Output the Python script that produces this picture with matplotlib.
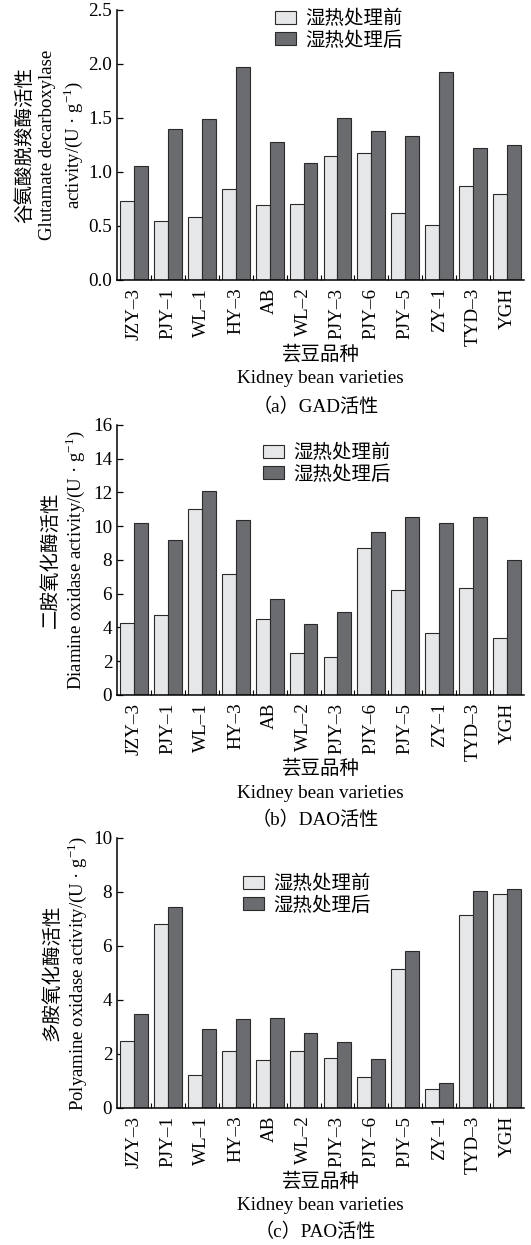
import numpy as np
import matplotlib
matplotlib.use("Agg")
import matplotlib.pyplot as plt
from matplotlib.ticker import MultipleLocator, FormatStrFormatter

plt.rcParams['font.family'] = ['Liberation Serif', 'Noto Sans CJK SC', 'DejaVu Sans']
plt.rcParams['mathtext.fontset'] = 'custom'
plt.rcParams['mathtext.rm'] = 'Liberation Serif'
plt.rcParams['axes.unicode_minus'] = False

# Kidney bean varieties
varieties = ["JZY–3", "PJY–1", "WL–1", "HY–3", "AB", "WL–2", "PJY–3",
             "PJY–6", "PJY–5", "ZY–1", "TYD–3", "YGH"]
series_names = ["湿热处理前", "湿热处理后"]

# Enzyme activity, U/g
gad_before = [0.73, 0.55, 0.58, 0.84, 0.69, 0.70, 1.15, 1.18, 0.62, 0.51, 0.87, 0.80]
gad_after = [1.06, 1.40, 1.49, 1.97, 1.28, 1.08, 1.50, 1.38, 1.33, 1.93, 1.22, 1.25]

dao_before = [4.29, 4.74, 11.02, 7.19, 4.48, 2.47, 2.23, 8.69, 6.22, 3.65, 6.36, 3.36]
dao_after = [10.19, 9.17, 12.07, 10.37, 5.69, 4.19, 4.92, 9.66, 10.55, 10.19, 10.57, 8.02]

pao_before = [2.49, 6.83, 1.22, 2.12, 1.79, 2.12, 1.86, 1.16, 5.16, 0.70, 7.16, 7.92]
pao_after = [3.50, 7.44, 2.94, 3.31, 3.35, 2.77, 2.46, 1.81, 5.83, 0.91, 8.02, 8.10]

W, H = 531, 1245
fig = plt.figure(figsize=(W / 100, H / 100), dpi=100)

LIGHT = "#e6e7e9"
DARK = "#6b6c70"
EDGE = "#2a2a2a"
FS = 13.8
YL_FS = 13.5
CJK_FS = 14

panels = [
    dict(top=10, before=gad_before, after=gad_after, ymax=2.5, step=0.5, fmt="%.1f",
         ylabels=[("谷氨酸脱羧酶活性", 25, CJK_FS),
                  ("Glutamate decarboxylase", 48, YL_FS),
                  ("activity/(U · g$^{-1}$)", 73, YL_FS)],
         legend=(275, 10), xl=(355, 379, 407), caption="（a）GAD活性"),
    dict(top=425, before=dao_before, after=dao_after, ymax=16, step=2, fmt="%d",
         ylabels=[("二胺氧化酶活性", 51, CJK_FS),
                  ("Diamine oxidase activity/(U · g$^{-1}$)", 75, YL_FS)],
         legend=(263, 444), xl=(769, 793, 820), caption="（b）DAO活性"),
    dict(top=838, before=pao_before, after=pao_after, ymax=10, step=2, fmt="%d",
         ylabels=[("多胺氧化酶活性", 52, CJK_FS),
                  ("Polyamine oxidase activity/(U · g$^{-1}$)", 77, YL_FS)],
         legend=(243, 875), xl=(1182, 1206, 1232), caption="（c）PAO活性"),
]

AX_LEFT, AX_RIGHT, AX_H = 117, 524, 270
x = np.arange(len(varieties))
bw = 0.41

for p in panels:
    top = p["top"]
    ax = fig.add_axes([AX_LEFT / W, 1 - (top + AX_H) / H,
                       (AX_RIGHT - AX_LEFT) / W, AX_H / H])
    ax.bar(x - bw / 2, p["before"], bw, color=LIGHT, edgecolor=EDGE,
           linewidth=0.8, label=series_names[0], zorder=2)
    ax.bar(x + bw / 2, p["after"], bw, color=DARK, edgecolor=EDGE,
           linewidth=0.8, label=series_names[1], zorder=2)
    ax.set_xlim(-0.5, len(varieties) - 0.5)
    ax.set_ylim(0, p["ymax"])
    ax.yaxis.set_major_locator(MultipleLocator(p["step"]))
    ax.yaxis.set_major_formatter(FormatStrFormatter(p["fmt"]))
    ax.set_xticks(x)
    ax.set_xticklabels(varieties, rotation=90, fontsize=FS)
    ax.set_xticks(np.arange(0.5, len(varieties) - 0.5, 1), minor=True)
    ax.tick_params(axis='x', which='major', length=0, pad=5.5)
    ax.tick_params(axis='x', which='minor', direction='in', length=3.5, width=0.8)
    ax.tick_params(axis='y', direction='in', length=4, width=0.9, labelsize=FS, pad=3.5)
    for s in ("top", "right"):
        ax.spines[s].set_visible(False)
    for s in ("left", "bottom"):
        ax.spines[s].set_linewidth(1.1)
        ax.spines[s].set_zorder(3)

    lx, ly = p["legend"]
    ax.legend(loc='upper left', bbox_to_anchor=(lx / W, 1 - ly / H),
              bbox_transform=fig.transFigure, frameon=False, fontsize=CJK_FS,
              handlelength=1.1, handleheight=0.65, handletextpad=0.45,
              labelspacing=0.15, borderpad=0, borderaxespad=0)

    cy = top + AX_H / 2
    for txt, px, fs in p["ylabels"]:
        fig.text(px / W, 1 - cy / H, txt, rotation=90, ha='center', va='center',
                 fontsize=fs)

    xc = (AX_LEFT + AX_RIGHT) / 2 / W
    y1, y2, y3 = p["xl"]
    fig.text(xc, 1 - y1 / H, "芸豆品种", ha='center', va='center', fontsize=CJK_FS)
    fig.text(xc, 1 - y2 / H, "Kidney bean varieties", ha='center', va='center', fontsize=FS)
    fig.text(xc - 5 / W, 1 - y3 / H, p["caption"], ha='center', va='center', fontsize=FS)

fig.savefig("out.png", dpi=100)
